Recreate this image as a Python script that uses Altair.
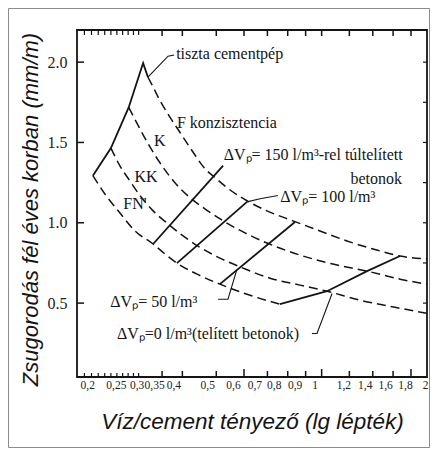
import altair as alt
import pandas as pd

# ---- curves (x = víz/cement tényező, y = zsugorodás mm/m) ----
tiszta_x = [0.222, 0.250, 0.281, 0.309, 0.319]
tiszta_y = [1.293, 1.465, 1.718, 1.994, 1.906]

F_x = [0.319, 0.328, 0.345, 0.369, 0.394, 0.426, 0.470, 0.489, 0.537, 0.612, 0.698, 0.828, 0.989, 1.181, 1.402, 1.675, 2.0]
F_y = [1.906, 1.856, 1.762, 1.656, 1.562, 1.450, 1.324, 1.293, 1.218, 1.137, 1.074, 1.012, 0.949, 0.887, 0.837, 0.793, 0.774]

K_x = [0.281, 0.299, 0.319, 0.345, 0.381, 0.421, 0.464, 0.523, 0.604, 0.698, 0.867, 1.078, 1.348, 1.675, 2.0]
K_y = [1.718, 1.606, 1.493, 1.374, 1.249, 1.156, 1.087, 1.012, 0.937, 0.874, 0.799, 0.743, 0.699, 0.649, 0.618]

KK_x = [0.250, 0.265, 0.283, 0.303, 0.330, 0.364, 0.402, 0.443, 0.512, 0.596, 0.712, 0.867, 1.036, 1.287, 1.620, 2.0]
KK_y = [1.465, 1.356, 1.262, 1.168, 1.074, 0.993, 0.918, 0.855, 0.780, 0.718, 0.655, 0.612, 0.574, 0.518, 0.474, 0.436]

FN_x = [0.222, 0.240, 0.265, 0.293, 0.330, 0.357, 0.386, 0.441, 0.512, 0.612, 0.760]
FN_y = [1.293, 1.181, 1.062, 0.949, 0.868, 0.805, 0.749, 0.680, 0.618, 0.555, 0.493]

V150_x = [0.330, 0.523]
V150_y = [0.868, 1.356]
V100_x = [0.386, 0.612]
V100_y = [0.749, 1.130]
V50_x = [0.512, 0.839]
V50_y = [0.618, 1.005]
V0_x = [0.760, 1.036, 1.348, 1.675]
V0_y = [0.493, 0.574, 0.699, 0.793]

# leader lines from labels
Lt_x = [0.319, 0.364, 0.379]
Lt_y = [1.906, 2.037, 2.044]
L100_x = [0.612, 0.667, 0.750]
L100_y = [1.130, 1.150, 1.170]
L50_x = [0.506, 0.540, 0.573]
L50_y = [0.524, 0.524, 0.712]
L0_x = [0.938, 0.970, 1.071]
L0_y = [0.311, 0.311, 0.560]

# annotation texts
left_text = ["tiszta cementpép", "F konzisztencia", "ΔVₚ= 150 l/m³-rel túltelített",
             "ΔVₚ= 100 l/m³", "ΔVₚ= 50 l/m³", "ΔVₚ=0 l/m³(telített betonok)"]
left_x = [0.384, 0.386, 0.525, 0.762, 0.249, 0.260]
left_y = [2.050, 1.618, 1.425, 1.162, 0.505, 0.305]

center_text = ["K", "KK", "FN'"]
center_x = [0.345, 0.315, 0.293]
center_y = [1.506, 1.287, 1.118]

right_text = ["betonok"]
right_x = [1.697]
right_y = [1.274]

# axes
x_tick_vals = [0.2, 0.25, 0.3, 0.35, 0.4, 0.5, 0.6, 0.7, 0.8, 0.9, 1.0, 1.2, 1.4, 1.6, 1.8, 2.0]
x_tick_text = ["0,2", "0,25", "0,3", "0,35", "0,4", "0,5", "0,6", "0,7", "0,8", "0,9", "1",
               "1,2", "1,4", "1,6", "1,8", "2"]
# the scanned labels sit slightly off their ticks (pixels)
x_label_shift = [3, 5, -2, -8, -9, -9, -11, -13, -14, -11, -7, -6, -8, -8, -6, 1]
x_major_ticks = [0.35, 0.4, 0.5, 0.7, 0.8, 0.9, 1.2, 1.4, 1.6]
x_long_ticks = [0.6, 1.0, 1.8]
x_minor_ticks = [0.21, 0.22, 0.23, 0.24, 0.25, 0.26, 0.27, 0.28, 0.29, 0.30]
y_tick_vals = [0.5, 1.0, 1.5, 2.0]
y_tick_text = ["0.5", "1.0", "1.5", "2.0"]
y_right_ticks = [0.5, 0.75, 1.0, 1.25, 1.5, 1.75, 2.0]

x_title = "Víz/cement tényező (lg lépték)"
y_title = "Zsugorodás fél éves korban (mm/m)"


def frame(name, xs, ys):
    return pd.DataFrame({"x": xs, "y": ys, "s": name, "o": list(range(len(xs)))})


def label_expr(vals, texts):
    e = "''"
    for v, t in reversed(list(zip(vals, texts))):
        e = f"abs(datum.value - {v}) < 1e-6 ? '{t}' : ({e})"
    return e


dashed = pd.concat([frame("F", F_x, F_y), frame("K", K_x, K_y),
                    frame("KK", KK_x, KK_y), frame("FN", FN_x, FN_y)])
solid = pd.concat([frame("tiszta", tiszta_x, tiszta_y), frame("V150", V150_x, V150_y),
                   frame("V100", V100_x, V100_y), frame("V50", V50_x, V50_y),
                   frame("V0", V0_x, V0_y)])
leaders = pd.concat([frame("Lt", Lt_x, Lt_y), frame("L100", L100_x, L100_y),
                     frame("L50", L50_x, L50_y), frame("L0", L0_x, L0_y)])

W, H = 350, 347
ink = "#141414"

xscale = alt.Scale(type="log", domain=[0.2, 2.0])
yscale = alt.Scale(domain=[0.04, 2.2])

label_offset = {
    "condition": [{"test": f"abs(datum.value - {v}) < 1e-6", "value": d}
                  for v, d in zip(x_tick_vals, x_label_shift)],
    "value": 0,
}

X = alt.X("x:Q", scale=xscale, axis=alt.Axis(
    values=x_tick_vals, labelExpr=label_expr(x_tick_vals, x_tick_text),
    ticks=False, domain=False, grid=False, labelOverlap=False,
    labelOffset=label_offset,
    labelFont="Liberation Sans Narrow", labelFontSize=11.5, labelColor="#222", labelPadding=2,
    title=x_title, titleFont="Liberation Sans", titleFontStyle="italic",
    titleFontWeight="normal", titleFontSize=22.5, titleColor=ink, titlePadding=20))
Y = alt.Y("y:Q", scale=yscale, axis=alt.Axis(
    values=y_tick_vals, labelExpr=label_expr(y_tick_vals, y_tick_text),
    ticks=False, domain=False, grid=False,
    labelFont="Liberation Serif", labelFontSize=16, labelColor="#222", labelPadding=10,
    title=y_title, titleFont="Liberation Sans", titleFontStyle="italic",
    titleFontWeight="normal", titleFontSize=22, titleColor=ink, titlePadding=5,
    titleY=179))

dash_layer = alt.Chart(dashed).mark_line(
    color=ink, strokeWidth=1.5, strokeDash=[9, 5], interpolate="monotone"
).encode(x=X, y=Y, detail="s:N", order="o:Q")

solid_layer = alt.Chart(solid).mark_line(color=ink, strokeWidth=1.8).encode(
    x=X, y=Y, detail="s:N", order="o:Q")

leader_layer = alt.Chart(leaders).mark_line(color=ink, strokeWidth=1.1).encode(
    x=X, y=Y, detail="s:N", order="o:Q")

txt_font = dict(font="Liberation Serif", fontSize=16, color=ink, baseline="middle")
left_layer = alt.Chart(pd.DataFrame({"x": left_x, "y": left_y, "t": left_text})).mark_text(
    align="left", **txt_font).encode(x=X, y=Y, text="t:N")
center_layer = alt.Chart(pd.DataFrame({"x": center_x, "y": center_y, "t": center_text})).mark_text(
    align="center", **txt_font).encode(x=X, y=Y, text="t:N")
right_layer = alt.Chart(pd.DataFrame({"x": right_x, "y": right_y, "t": right_text})).mark_text(
    align="right", **txt_font).encode(x=X, y=Y, text="t:N")

xmaj = pd.DataFrame({"x": x_major_ticks})
xlong = pd.DataFrame({"x": x_long_ticks})
xmin = pd.DataFrame({"x": x_minor_ticks})
bot_major = alt.Chart(xmaj).mark_rule(color=ink, strokeWidth=1.5).encode(
    x=X, y=alt.value(H), y2=alt.value(H - 6))
bot_long = alt.Chart(xlong).mark_rule(color=ink, strokeWidth=1.5).encode(
    x=X, y=alt.value(H), y2=alt.value(H - 8))
bot_minor = alt.Chart(xmin).mark_rule(color=ink, strokeWidth=1.2).encode(
    x=X, y=alt.value(H), y2=alt.value(H - 4))
top_major = alt.Chart(pd.concat([xmaj, xlong])).mark_rule(color=ink, strokeWidth=1.5).encode(
    x=X, y=alt.value(0), y2=alt.value(6))
top_minor = alt.Chart(xmin).mark_rule(color=ink, strokeWidth=1.2).encode(
    x=X, y=alt.value(0), y2=alt.value(5))
left_ticks = alt.Chart(pd.DataFrame({"y": y_tick_vals})).mark_rule(color=ink, strokeWidth=1.5).encode(
    y=Y, x=alt.value(0), x2=alt.value(7))
right_ticks = alt.Chart(pd.DataFrame({"y": y_right_ticks})).mark_rule(color=ink, strokeWidth=1.2).encode(
    y=Y, x=alt.value(W), x2=alt.value(W - 4))

border = alt.Chart(alt.Data(values=[{"a": 1}])).mark_rect(
    fill="transparent", stroke="#8c8c8c", strokeWidth=1
).encode(x=alt.value(-68.5), x2=alt.value(352.5), y=alt.value(-21.5), y2=alt.value(417.5))

chart = alt.layer(
    border, dash_layer, solid_layer, leader_layer, left_layer, center_layer, right_layer,
    bot_major, bot_long, bot_minor, top_major, top_minor, left_ticks, right_ticks
).properties(
    width=W, height=H,
    autosize=alt.AutoSizeParams(type="none"),
    padding={"left": 69, "top": 22, "right": 3, "bottom": 71},
    background="white"
).configure_view(stroke=ink, strokeWidth=1.8)

chart.save("out.html", embed_options={"renderer": "svg", "actions": False})
